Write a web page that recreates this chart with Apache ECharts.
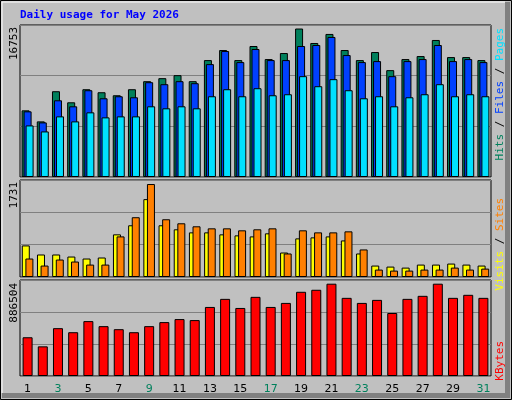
<!DOCTYPE html>
<html><head><meta charset="utf-8">
<script src="https://cdn.jsdelivr.net/npm/echarts@6/dist/echarts.min.js"></script>
<style>html,body{margin:0;padding:0;background:#c0c0c0}#c{width:512px;height:400px}</style>
</head><body><div id="c"></div>
<script>
const days = ['1','2','3','4','5','6','7','8','9','10','11','12','13','14','15','16','17','18','19','20','21','22','23','24','25','26','27','28','29','30','31'];
const weekend = [2,3,9,10,16,17,23,24,30,31];
const hits = [7522,6275,9677,8429,9904,9563,9223,9904,10811,11151,11491,10811,13192,14326,13192,14780,13306,13986,16753,15120,16141,14326,13192,14099,12058,13306,13646,15460,13532,13532,13192];
const files = [7409,6161,8656,7976,9790,8883,9110,8996,10697,10471,10811,10584,12739,14213,12965,14440,13192,13192,14780,14893,15800,13759,12965,13079,11378,13079,13306,14893,13079,13306,12965];
const pages = [5821,5141,6842,6275,7295,6728,6842,6842,7976,7749,7976,7749,9110,9904,9110,10017,9223,9337,11378,10244,11038,9790,8883,9110,7976,8996,9337,10471,9110,9337,9110];
const sites = [588,419,419,381,344,363,794,963,1450,963,888,831,831,794,775,756,813,456,719,738,756,681,438,213,194,175,231,231,250,231,213];
const visits = [344,213,325,288,231,231,756,1113,1731,1075,1000,944,906,906,869,888,906,438,869,831,831,850,513,138,119,119,138,138,175,138,156];
const kbytes = [372025,284680,459370,420550,527305,478780,449665,420550,478780,517600,546715,537010,663175,740815,653470,760225,663175,701995,808750,828160,886504,750520,701995,731110,604945,740815,769930,886504,750520,779635,750520];
const maxLabels = ['16753','1731','886504'];

const FONT = 'DejaVu Sans Mono';
const grids = [
  {left:20, right:21, top:25, height:152},
  {left:20, right:21, top:180, height:97},
  {left:20, right:21, top:280, height:96}
];
const maxes = [17150, 1806, 922000];
const bs = {borderColor:'#000', borderWidth:1};
function yax(i){return {gridIndex:i,min:0,max:maxes[i],interval:maxes[i]/3,axisLabel:{show:false},axisLine:{show:false},axisTick:{show:false},splitLine:{lineStyle:{color:'#808080',width:1}}};}
function xax(i){return {gridIndex:i,type:'category',data:days,axisLine:{show:false},axisTick:{show:false},
  axisLabel:{show:i===2,margin:8,fontFamily:'DejaVu Sans',fontSize:11,
    color:(v)=>weekend.includes(+v)?'#00805c':'#000'}};}

function rot(x,y,rich,parts){
  return {type:'text',x:x,y:y,rotation:Math.PI/2,style:{text:parts,rich:rich,align:'right',verticalAlign:'middle',font:'11px '+FONT}};
}
const rich = {
  p:{fill:'#00e0ff',fontFamily:FONT,fontSize:11},
  f:{fill:'#0040ff',fontFamily:FONT,fontSize:11},
  h:{fill:'#00805c',fontFamily:FONT,fontSize:11},
  k:{fill:'#000',fontFamily:FONT,fontSize:11},
  s:{fill:'#ff8000',fontFamily:FONT,fontSize:11},
  v:{fill:'#ffff00',fontFamily:FONT,fontSize:11},
  r:{fill:'#ff0000',fontFamily:FONT,fontSize:11}
};
const chart = echarts.init(document.getElementById('c'));
chart.setOption({
  backgroundColor:'#c0c0c0',
  animation:false,
  grid:grids.map(g=>Object.assign({show:true,borderColor:'#000',borderWidth:1,backgroundColor:'#c0c0c0'},g)),
  xAxis:[xax(0),xax(1),xax(2)],
  yAxis:[yax(0),yax(1),yax(2)],
  series:[
    {type:'bar',xAxisIndex:0,yAxisIndex:0,data:hits,barWidth:8,barGap:'-75%',itemStyle:Object.assign({color:'#00805c'},bs)},
    {type:'bar',xAxisIndex:0,yAxisIndex:0,data:files,barWidth:8,barGap:'-75%',itemStyle:Object.assign({color:'#0040ff'},bs)},
    {type:'bar',xAxisIndex:0,yAxisIndex:0,data:pages,barWidth:8,barGap:'-75%',itemStyle:Object.assign({color:'#00e0ff'},bs)},
    {type:'bar',xAxisIndex:1,yAxisIndex:1,data:sites,barWidth:8,barGap:'-55%',itemStyle:Object.assign({color:'#ffff00'},bs)},
    {type:'bar',xAxisIndex:1,yAxisIndex:1,data:visits,barWidth:8,barGap:'-55%',itemStyle:Object.assign({color:'#ff8000'},bs)},
    {type:'bar',xAxisIndex:2,yAxisIndex:2,data:kbytes,barWidth:10,itemStyle:Object.assign({color:'#ff0000'},bs)}
  ],
  graphic:[
    {type:'rect',shape:{x:0.5,y:0.5,width:511,height:399},style:{fill:'none',stroke:'#000',lineWidth:1},z:-1},
    {type:'rect',shape:{x:505,y:2,width:5,height:396},style:{fill:'#808080'},z:-1},
    {type:'rect',shape:{x:2,y:393,width:508,height:5},style:{fill:'#808080'},z:-1},
    {type:'polyline',shape:{points:[[2,393],[2,2],[505,2]]},style:{stroke:'#fff',lineWidth:1,fill:'none'}},
    {type:'text',x:20,y:15,style:{text:'Daily usage for May 2026',font:'bold 11px '+FONT,fill:'#0000ff',verticalAlign:'middle'}},
    rot(14,27,rich,maxLabels[0]),
    rot(14,182,rich,maxLabels[1]),
    rot(14,283,rich,maxLabels[2]),
    rot(500,28,rich,'{h|Hits} {k|/} {f|Files} {k|/} {p|Pages}'),
    rot(500,198,rich,'{v|Visits} {k|/} {s|Sites}'),
    rot(500,341,rich,'{r|KBytes}')
  ]
});
</script></body></html>
